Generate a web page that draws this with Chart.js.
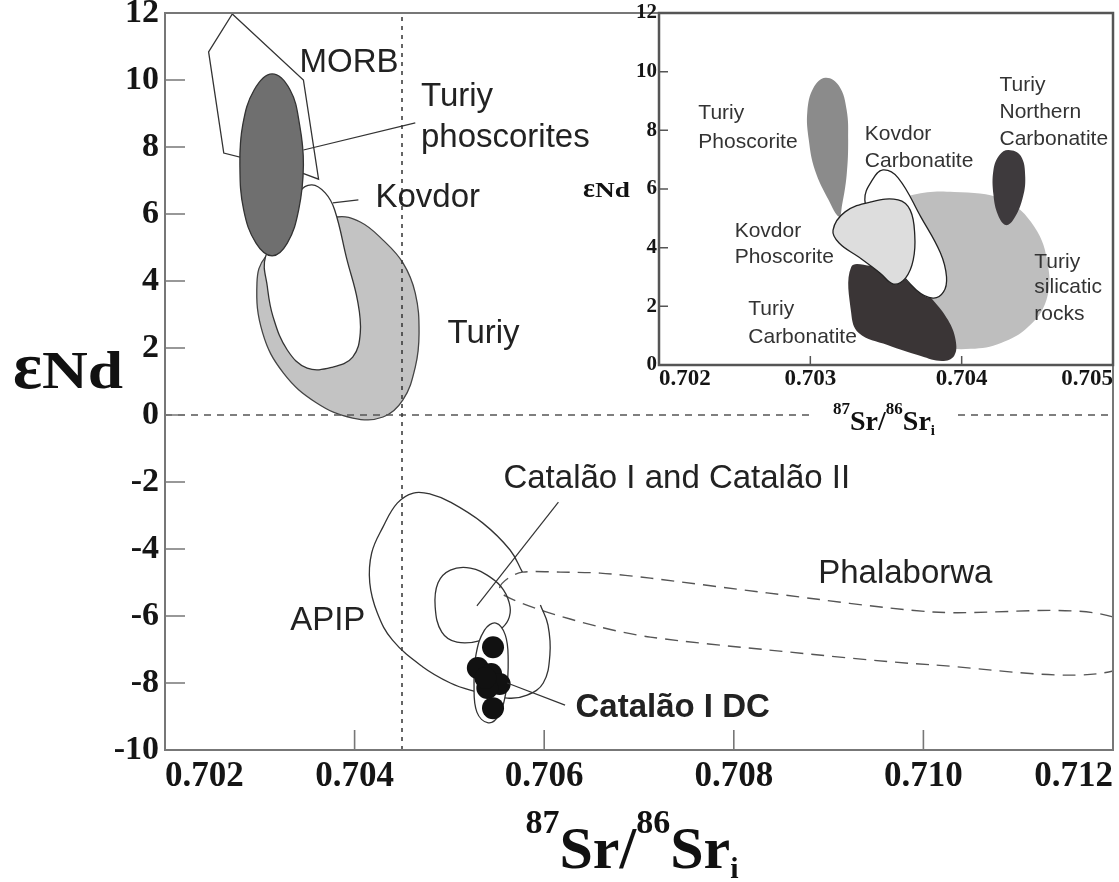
<!DOCTYPE html>
<html>
<head>
<meta charset="utf-8">
<title>εNd vs 87Sr/86Sr</title>
<script src="https://cdn.jsdelivr.net/npm/chart.js@4.4.0/dist/chart.umd.min.js"></script>
<style>
  html, body { margin: 0; padding: 0; background: #fff; }
  #wrap { position: relative; width: 1119px; height: 882px; }
  #main { position: absolute; left: 0; top: 0; }
  #inset { position: absolute; left: 560px; top: 0; }
</style>
</head>
<body>
<div id="wrap">
  <canvas id="main" width="1119" height="882"></canvas>
  <canvas id="inset" width="559" height="440"></canvas>
</div>
<script>
// ---------- main diagram: 87Sr/86Sr (x) vs eNd (y) ----------
const mainXTicks = [0.702, 0.704, 0.706, 0.708, 0.710, 0.712];
const mainYTicks = [-10, -8, -6, -4, -2, 0, 2, 4, 6, 8, 10, 12];

const morbX = [0.70271, 0.70346, 0.70362, 0.70342, 0.70262, 0.70246];
const morbY = [11.97, 10.00, 7.04, 7.25, 7.82, 10.84];

const turiyPhosX = [0.70313, 0.70332, 0.70342, 0.70346, 0.70341, 0.70329, 0.70313, 0.70296, 0.70283, 0.70279, 0.70282, 0.70294];
const turiyPhosY = [10.18, 9.70, 8.66, 7.46, 6.12, 5.13, 4.75, 5.13, 6.12, 7.46, 8.66, 9.70];

const kovdorX = [0.70355, 0.70369, 0.70379, 0.70392, 0.70403, 0.70406, 0.70398, 0.70377, 0.70350, 0.70329, 0.70314, 0.70308, 0.70306, 0.70327, 0.70342];
const kovdorY = [6.87, 6.63, 6.12, 4.63, 3.43, 2.45, 1.73, 1.43, 1.40, 1.94, 2.93, 3.82, 4.72, 5.67, 6.66];

const turiyX = [0.70381, 0.70406, 0.70430, 0.70451, 0.70464, 0.70468, 0.70464, 0.70451, 0.70430, 0.70398, 0.70360, 0.70325, 0.70303, 0.70297, 0.70306, 0.70342];
const turiyY = [5.91, 5.76, 5.22, 4.54, 3.64, 2.45, 1.43, 0.45, -0.06, -0.09, 0.36, 1.25, 2.45, 3.94, 4.72, 5.46];

const apipX = [0.70596, 0.70604, 0.70606, 0.70599, 0.70582, 0.70561, 0.70522, 0.70501, 0.70472, 0.70440, 0.70424, 0.70416, 0.70418, 0.70430, 0.70445, 0.70462, 0.70480, 0.70501, 0.70535, 0.70564, 0.70577];
const apipY = [-5.67, -6.27, -7.16, -8.00, -8.36, -8.45, -8.21, -8.00, -7.52, -6.72, -5.91, -5.01, -4.12, -3.34, -2.63, -2.33, -2.36, -2.60, -3.22, -4.03, -4.69];

const catalaoX = [0.70501, 0.70522, 0.70543, 0.70557, 0.70564, 0.70562, 0.70553, 0.70535, 0.70508, 0.70492, 0.70485, 0.70488];
const catalaoY = [-4.63, -4.57, -4.84, -5.22, -5.73, -6.12, -6.42, -6.72, -6.78, -6.48, -5.73, -5.01];

const dcFieldX = [0.70549, 0.70559, 0.70562, 0.70560, 0.70552, 0.70541, 0.70529, 0.70526, 0.70528, 0.70537];
const dcFieldY = [-6.21, -6.57, -7.31, -8.21, -8.96, -9.19, -8.87, -8.06, -7.16, -6.42];

const dcX = [0.70546, 0.70530, 0.70544, 0.70553, 0.70540, 0.70538, 0.70546];
const dcY = [-6.93, -7.55, -7.73, -8.03, -8.15, -7.85, -8.75];

const phalX = [0.70553, 0.70562, 0.70577, 0.70617, 0.70659, 0.70712, 0.70835, 0.71010, 0.71200, 0.71200, 0.71010, 0.70835, 0.70712, 0.70659, 0.70596, 0.70559];
const phalY = [-5.16, -4.87, -4.69, -4.69, -4.72, -4.87, -5.31, -5.88, -6.03, -7.64, -7.46, -7.01, -6.63, -6.33, -5.82, -5.40];

const leadPhosX = [0.70346, 0.70464];  const leadPhosY = [7.91, 8.72];
const leadKovX = [0.70377, 0.70404];   const leadKovY = [6.33, 6.42];
const leadCatX = [0.70529, 0.70615];   const leadCatY = [-5.70, -2.60];
const leadDcX = [0.70561, 0.70622];    const leadDcY = [-8.00, -8.66];

const refVertX = [0.7045, 0.7045];  const refVertY = [-10, 12];
const refHorX = [0.702, 0.712];     const refHorY = [0, 0];

const mainLabels = ['MORB', 'Turiy', 'phoscorites', 'Kovdor', 'Turiy', 'Catalão I and Catalão II', 'Phalaborwa', 'APIP', 'Catalão I DC'];
const mainLabelX = [0.70342, 0.70470, 0.70470, 0.70422, 0.70498, 0.70557, 0.70889, 0.70332, 0.70633];
const mainLabelY = [10.24, 9.22, 8.00, 6.21, 2.15, -2.18, -5.01, -6.42, -9.01];
const mainLabelBold = [false, false, false, false, false, false, false, false, true];

// ---------- inset ----------
const insetXTicks = [0.702, 0.703, 0.704, 0.705];
const insetYTicks = [0, 2, 4, 6, 8, 10, 12];

const iTurPhosX = [0.70310, 0.70319, 0.70324, 0.70325, 0.70324, 0.70321, 0.70319, 0.70312, 0.70303, 0.70299, 0.70298, 0.70302];
const iTurPhosY = [9.79, 9.51, 8.69, 7.67, 6.48, 5.46, 5.05, 5.63, 6.65, 7.67, 8.63, 9.44];

const iNorthX = [0.70431, 0.70439, 0.70442, 0.70440, 0.70434, 0.70429, 0.70424, 0.70421, 0.70421, 0.70425];
const iNorthY = [7.33, 7.13, 6.41, 5.63, 4.94, 4.77, 5.11, 5.80, 6.65, 7.16];

const iSilX = [0.70368, 0.70395, 0.70428, 0.70448, 0.70457, 0.70456, 0.70444, 0.70426, 0.70406, 0.70389, 0.70376, 0.70363, 0.70356, 0.70360];
const iSilY = [5.80, 5.90, 5.63, 4.71, 3.41, 2.22, 1.30, 0.75, 0.55, 0.68, 1.53, 3.24, 4.60, 5.46];

const iTurCarbX = [0.70327, 0.70327, 0.70332, 0.70351, 0.70373, 0.70387, 0.70395, 0.70396, 0.70391, 0.70381, 0.70366, 0.70355, 0.70340];
const iTurCarbY = [3.34, 1.77, 1.09, 0.68, 0.31, 0.14, 0.31, 0.85, 1.53, 2.22, 3.00, 3.24, 3.38];

const iKovCarbX = [0.70348, 0.70358, 0.70373, 0.70386, 0.70390, 0.70388, 0.70381, 0.70370, 0.70356, 0.70343, 0.70336, 0.70341];
const iKovCarbY = [6.65, 6.38, 5.05, 3.82, 3.00, 2.49, 2.28, 2.56, 3.41, 4.60, 5.63, 6.31];

const iKovPhosX = [0.70315, 0.70323, 0.70340, 0.70358, 0.70366, 0.70369, 0.70368, 0.70363, 0.70355, 0.70346, 0.70332, 0.70319];
const iKovPhosY = [4.60, 5.22, 5.56, 5.63, 5.28, 4.43, 3.58, 2.97, 2.76, 3.14, 3.68, 4.16];

const insetLabels = ['Turiy', 'Phoscorite', 'Kovdor', 'Carbonatite', 'Turiy', 'Northern', 'Carbonatite', 'Kovdor', 'Phoscorite', 'Turiy', 'silicatic', 'rocks', 'Turiy', 'Carbonatite'];
const insetLabelX = [0.70226, 0.70226, 0.70336, 0.70336, 0.70425, 0.70425, 0.70425, 0.70250, 0.70250, 0.70448, 0.70448, 0.70448, 0.70259, 0.70259];
const insetLabelY = [8.39, 7.40, 7.67, 6.75, 9.34, 8.42, 7.50, 4.36, 3.48, 3.31, 2.45, 1.53, 1.70, 0.75];

const SANS = '"Liberation Sans", Arial, sans-serif';
const SERIF = '"Liberation Serif", "Times New Roman", serif';

function pts(xs, ys) { return xs.map(function (v, i) { return { x: v, y: ys[i] }; }); }

function area(name, xs, ys, fillColor, lineColor, order, tension) {
  return {
    label: name, data: pts(xs, ys), closed: true, showLine: true,
    fill: fillColor ? 'shape' : false,
    backgroundColor: fillColor || 'rgba(0,0,0,0)',
    borderColor: lineColor || 'rgba(0,0,0,0)',
    borderWidth: lineColor ? 1.3 : 0,
    tension: tension == null ? 0.4 : tension,
    pointRadius: 0, pointHoverRadius: 0, order: order
  };
}

function path(name, xs, ys, color, width, dash, order, tension) {
  return {
    label: name, data: pts(xs, ys), showLine: true, fill: false,
    borderColor: color, borderWidth: width, borderDash: dash || [],
    tension: tension || 0, pointRadius: 0, pointHoverRadius: 0, order: order
  };
}

// turns a dataset line into a closed smooth loop (same as radar charts do)
const closedShapes = {
  id: 'closedShapes',
  afterDatasetUpdate(chart, args) {
    const ds = chart.data.datasets[args.index];
    const line = args.meta.dataset;
    if (ds.closed && line) { line._loop = true; line._fullLoop = true; }
  }
};

function srTitle(ctx, cx, base, big, sup, sub) {
  const parts = [['87', sup, -big * 0.58], ['Sr/', big, 0], ['86', sup, -big * 0.58], ['Sr', big, 0], ['i', sub, big * 0.17]];
  let total = 0;
  parts.forEach(function (p) { ctx.font = 'bold ' + p[1] + 'px ' + SERIF; p.push(ctx.measureText(p[0]).width); total += p[3]; });
  let x = cx - total / 2;
  ctx.textAlign = 'left'; ctx.textBaseline = 'alphabetic';
  parts.forEach(function (p) { ctx.font = 'bold ' + p[1] + 'px ' + SERIF; ctx.fillText(p[0], x, base + p[2]); x += p[3]; });
}

// eNd: a tall epsilon followed by a widened "Nd"
function ndTitle(ctx, left, base, epsSize, size, stretch) {
  ctx.textAlign = 'left'; ctx.textBaseline = 'alphabetic';
  ctx.font = 'bold ' + epsSize + 'px ' + SERIF;
  ctx.fillText('ε', left, base);
  const w = ctx.measureText('ε').width;
  ctx.save();
  ctx.translate(left + w, base);
  ctx.scale(stretch, 1);
  ctx.font = 'bold ' + size + 'px ' + SERIF;
  ctx.fillText('Nd', 0, 0);
  ctx.restore();
}

function makeDecor(cfg) {
  return {
    id: 'decor',
    beforeDatasetsDraw(chart) {
      if (!cfg.whiteArea) return;
      const a = chart.chartArea, ctx = chart.ctx;
      ctx.save(); ctx.fillStyle = '#fff';
      ctx.fillRect(a.left, a.top, a.right - a.left, a.bottom - a.top);
      ctx.restore();
    },
    afterDatasetsDraw(chart) {
      const ctx = chart.ctx, a = chart.chartArea, xs = chart.scales.x, ys = chart.scales.y;
      ctx.save();
      ctx.fillStyle = cfg.labelColor; ctx.textAlign = 'left'; ctx.textBaseline = 'alphabetic';
      cfg.texts.forEach(function (t, i) {
        ctx.font = (cfg.bold && cfg.bold[i] ? 'bold ' : '') + cfg.labelSize + 'px ' + SANS;
        ctx.fillText(t, xs.getPixelForValue(cfg.xs[i]), ys.getPixelForValue(cfg.ys[i]));
      });
      ctx.strokeStyle = cfg.frameColor; ctx.lineWidth = cfg.tickWidth;
      ctx.beginPath();
      xs.ticks.forEach(function (t) {
        const px = xs.getPixelForValue(t.value);
        if (px > a.left + 3 && px < a.right - 3) { ctx.moveTo(px, a.bottom); ctx.lineTo(px, a.bottom - cfg.tickLen); }
      });
      ys.ticks.forEach(function (t) {
        const py = ys.getPixelForValue(t.value);
        if (py > a.top + 3 && py < a.bottom - 3) { ctx.moveTo(a.left, py); ctx.lineTo(a.left + cfg.tickLen, py); }
      });
      ctx.stroke();
      ctx.lineWidth = cfg.frameWidth;
      ctx.strokeRect(a.left, a.top, a.right - a.left, a.bottom - a.top);
      ctx.restore();
    },
    afterDraw(chart) {
      const ctx = chart.ctx;
      ctx.save();
      if (cfg.titleBg) { ctx.fillStyle = '#fff'; ctx.fillRect(cfg.titleBg[0], cfg.titleBg[1], cfg.titleBg[2], cfg.titleBg[3]); }
      ctx.fillStyle = '#111';
      srTitle(ctx, cfg.xTitle[0], cfg.xTitle[1], cfg.xTitle[2], cfg.xTitle[3], cfg.xTitle[4]);
      ndTitle(ctx, cfg.yTitle[0], cfg.yTitle[1], cfg.yTitle[2], cfg.yTitle[3], cfg.yTitle[4]);
      ctx.restore();
    }
  };
}

function axes(xTicks, yTicks, xFont, yFont, xPad, yPad, yWidth, xHeight) {
  return {
    x: {
      type: 'linear', min: xTicks[0], max: xTicks[xTicks.length - 1],
      afterBuildTicks: function (s) { s.ticks = xTicks.map(function (v) { return { value: v }; }); },
      afterFit: function (s) { s.height = xHeight; s.paddingLeft = 0; s.paddingRight = 0; },
      grid: { display: false, drawTicks: false }, border: { display: false },
      ticks: { autoSkip: false, align: 'inner', padding: xPad, color: '#151515',
        font: { family: SERIF, size: xFont, weight: 'bold' },
        callback: function (v) { return Number(v).toFixed(3); } }
    },
    y: {
      type: 'linear', min: yTicks[0], max: yTicks[yTicks.length - 1],
      afterBuildTicks: function (s) { s.ticks = yTicks.map(function (v) { return { value: v }; }); },
      afterFit: function (s) { s.width = yWidth; s.paddingTop = 0; s.paddingBottom = 0; },
      grid: { display: false, drawTicks: false }, border: { display: false },
      ticks: { autoSkip: false, padding: yPad, color: '#151515',
        font: { family: SERIF, size: yFont, weight: 'bold' },
        callback: function (v) { return String(v); } }
    }
  };
}

const mainSets = [
  Object.assign(area('Phalaborwa', phalX, phalY, null, '#555', 30, 0.3), { borderDash: [13, 8], borderWidth: 1.4 }),
  path('APIP', apipX, apipY, '#333', 1.3, null, 29, 0.4),
  area('Catalão I and Catalão II', catalaoX, catalaoY, null, '#333', 28),
  area('Catalão I DC field', dcFieldX, dcFieldY, '#ffffff', '#333', 27),
  { label: 'Catalão I DC', data: pts(dcX, dcY), showLine: false, pointRadius: 11, pointHoverRadius: 11,
    pointBackgroundColor: '#111', pointBorderWidth: 0, order: 26 },
  area('Turiy', turiyX, turiyY, '#c3c3c3', '#444', 25),
  area('Kovdor', kovdorX, kovdorY, '#ffffff', '#333', 24),
  area('MORB', morbX, morbY, '#ffffff', '#333', 23, 0),
  area('Turiy phoscorites', turiyPhosX, turiyPhosY, '#6f6f6f', '#333', 22),
  path('lead phoscorites', leadPhosX, leadPhosY, '#333', 1.2, null, 10),
  path('lead Kovdor', leadKovX, leadKovY, '#333', 1.2, null, 10),
  path('lead Catalão', leadCatX, leadCatY, '#333', 1.2, null, 10),
  path('lead DC', leadDcX, leadDcY, '#333', 1.2, null, 10),
  path('Sr ref', refVertX, refVertY, '#333', 1.5, [4, 5], 1),
  path('Nd ref', refHorX, refHorY, '#555', 1.5, [7, 6], 1)
];

new Chart(document.getElementById('main'), {
  type: 'scatter',
  data: { datasets: mainSets },
  options: {
    responsive: false, animation: false, events: [],
    layout: { autoPadding: false, padding: { left: 0, right: 6, top: 13, bottom: 0 } },
    plugins: { legend: { display: false }, tooltip: { enabled: false } },
    scales: axes(mainXTicks, mainYTicks, 35, 34, 6, 6, 165, 132)
  },
  plugins: [closedShapes, makeDecor({
    texts: mainLabels, xs: mainLabelX, ys: mainLabelY, bold: mainLabelBold,
    labelSize: 33, labelColor: '#222',
    frameColor: '#777', frameWidth: 2, tickWidth: 1.6, tickLen: 20,
    xTitle: [632, 868, 60, 34, 30], yTitle: [13, 388, 68, 52, 1.22]
  })]
});

const insetSets = [
  area('Turiy silicatic rocks', iSilX, iSilY, '#bebebe', null, 30),
  area('Turiy Carbonatite', iTurCarbX, iTurCarbY, '#3a3536', null, 29),
  area('Kovdor Carbonatite', iKovCarbX, iKovCarbY, '#ffffff', '#222', 28),
  area('Turiy Phoscorite', iTurPhosX, iTurPhosY, '#8b8b8b', null, 27),
  area('Kovdor Phoscorite', iKovPhosX, iKovPhosY, '#dddddd', '#222', 26),
  area('Turiy Northern Carbonatite', iNorthX, iNorthY, '#3e3a3d', null, 25)
];

new Chart(document.getElementById('inset'), {
  type: 'scatter',
  data: { datasets: insetSets },
  options: {
    responsive: false, animation: false, events: [],
    layout: { autoPadding: false, padding: { left: 0, right: 6, top: 13, bottom: 0 } },
    plugins: { legend: { display: false }, tooltip: { enabled: false } },
    scales: axes(insetXTicks, insetYTicks, 23, 21, 0, 2, 99, 75)
  },
  plugins: [closedShapes, makeDecor({
    whiteArea: true,
    texts: insetLabels, xs: insetLabelX, ys: insetLabelY,
    labelSize: 21, labelColor: '#333',
    frameColor: '#555', frameWidth: 2.5, tickWidth: 1.5, tickLen: 9,
    titleBg: [250, 395, 148, 45],
    xTitle: [324, 430, 28, 17, 15], yTitle: [23, 197, 28, 21, 1.3]
  })]
});
</script>
</body>
</html>
